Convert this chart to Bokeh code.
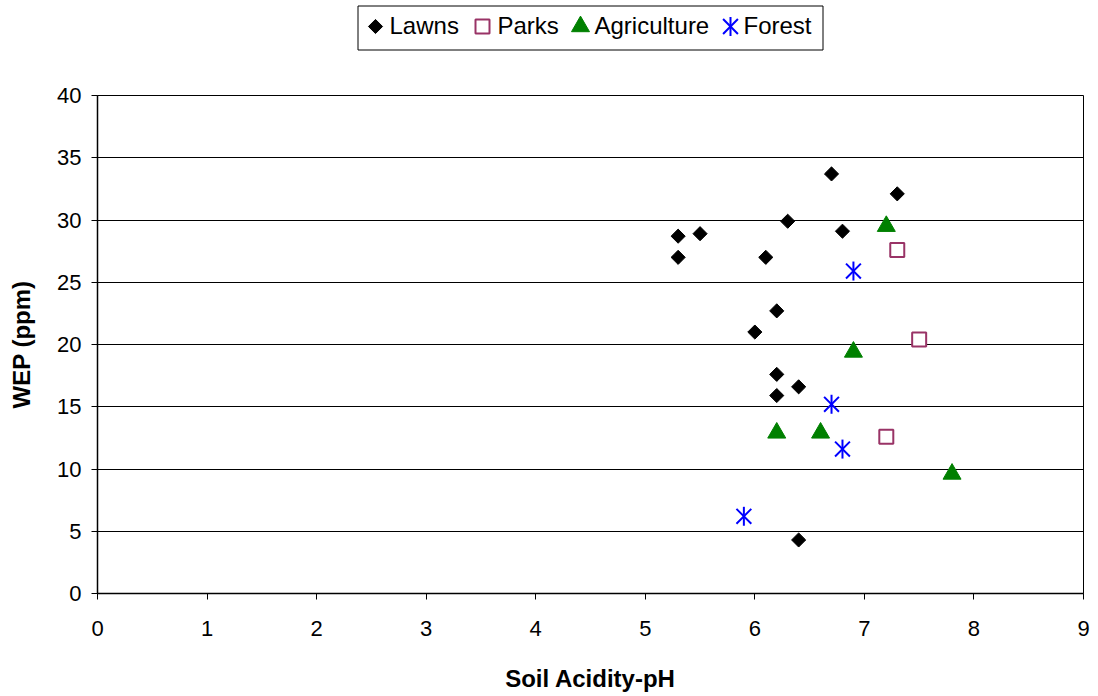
import math
from bokeh.plotting import figure
from bokeh.layouts import column
from bokeh.models import FixedTicker, Range1d
from bokeh.core.properties import value
from bokeh.embed import file_html
from bokeh.resources import INLINE

# --- data ---
lawns_ph = [6.7, 7.3, 6.3, 5.3, 5.5, 6.8, 5.3, 6.1, 6.2, 6.0, 6.2, 6.4, 6.2, 6.4]
lawns_wep = [33.7, 32.1, 29.9, 28.7, 28.9, 29.1, 27.0, 27.0, 22.7, 21.0, 17.6, 16.6, 15.9, 4.3]
parks_ph = [7.3, 7.5, 7.2]
parks_wep = [27.6, 20.4, 12.6]
agri_ph = [7.2, 6.9, 6.2, 6.6, 7.8]
agri_wep = [29.5, 19.4, 12.9, 12.9, 9.6]
forest_ph = [6.9, 6.7, 6.8, 5.9]
forest_wep = [25.9, 15.2, 11.6, 6.2]
series_names = ["Lawns", "Parks", "Agriculture", "Forest"]
x_ticks = [0, 1, 2, 3, 4, 5, 6, 7, 8, 9]
y_ticks = [0, 5, 10, 15, 20, 25, 30, 35, 40]

FONT = "Liberation Sans"
W = 1096
LEG_H = 60
FRAME_L, FRAME_R = 97, 1083   # page pixels of the plot frame

# style per series
LAWNS = dict(marker="square", size=10, angle=math.pi / 4, fill_color="black", line_color="black")
PARKS = dict(marker="square", size=14, fill_color="white", line_color="#993366", line_width=2)
AGRI = dict(marker="triangle", size=18, fill_color="#008000", line_color="#008000")
FOR_X = dict(marker="x", size=21, line_color="#0000FF", line_width=2)
FOR_V = dict(marker="dash", size=19, angle=math.pi / 2, line_color="#0000FF", line_width=2)

# ---------------- main chart ----------------
p = figure(width=W, height=694 - LEG_H, output_backend="svg", toolbar_location=None,
           x_range=Range1d(0, 9), y_range=Range1d(0, 40),
           min_border_left=FRAME_L, min_border_right=W - FRAME_R, min_border_top=95 - LEG_H,
           min_border_bottom=97)
p.background_fill_color = "white"
p.border_fill_color = "white"
p.outline_line_color = "black"
p.outline_line_width = 1

p.xgrid.visible = False
p.ygrid.grid_line_color = "black"
p.ygrid.grid_line_width = 1
p.ygrid.ticker = FixedTicker(ticks=y_ticks)

p.xaxis.ticker = FixedTicker(ticks=x_ticks)
p.yaxis.ticker = FixedTicker(ticks=y_ticks)
for ax in (p.xaxis[0], p.yaxis[0]):
    ax.axis_line_color = "black"
    ax.axis_line_width = 1.5
    ax.major_tick_line_color = "black"
    ax.major_tick_out = 6
    ax.major_tick_in = 0
    ax.minor_tick_line_color = None
    ax.major_label_text_font = FONT
    ax.major_label_text_font_size = "22px"
    ax.major_label_text_color = "black"
    ax.axis_label_text_font = FONT
    ax.axis_label_text_font_size = "24px"
    ax.axis_label_text_font_style = "bold"
    ax.axis_label_text_color = "black"

p.xaxis.axis_label = "Soil Acidity-pH"
p.yaxis.axis_label = "WEP (ppm)"
p.xaxis.major_label_standoff = 21
p.xaxis.axis_label_standoff = 26
p.yaxis.major_label_standoff = 10
p.yaxis.axis_label_standoff = 19

p.scatter(lawns_ph, lawns_wep, **LAWNS)
p.scatter(parks_ph, parks_wep, **PARKS)
p.scatter(agri_ph, agri_wep, **AGRI)
p.scatter(forest_ph, forest_wep, **FOR_X)
p.scatter(forest_ph, forest_wep, **FOR_V)

# ---------------- legend strip (page-pixel space, frame aligned with main plot) ----------------
leg = figure(width=W, height=LEG_H, output_backend="svg", toolbar_location=None,
             x_range=Range1d(FRAME_L, FRAME_R), y_range=Range1d(LEG_H, 0),
             min_border_left=FRAME_L, min_border_right=W - FRAME_R,
             min_border_top=0, min_border_bottom=0)
leg.axis.visible = False
leg.grid.visible = False
leg.outline_line_color = None
leg.background_fill_color = "white"
leg.border_fill_color = "white"

box_l, box_r, box_t, box_b = 357.5, 822.5, 5.5, 49.5
leg.quad(left=[box_l], right=[box_r], top=[box_t], bottom=[box_b],
         fill_color="white", line_color="black", line_width=1)
cy = 26
glyph_x = [375, 482, 580, 730]
text_x = [389, 497, 594, 743]
styles = [[LAWNS], [PARKS], [AGRI], [FOR_X, FOR_V]]
for gx, st in zip(glyph_x, styles):
    for s in st:
        leg.scatter([gx], [cy], **s)
leg.text(x=text_x, y=[cy - 1] * 4, text=series_names, text_font=value(FONT),
         text_font_size="24px", text_color="black", text_baseline="middle",
         text_align="left")

layout = column(leg, p, spacing=0)
open("out.html", "w").write(file_html(layout, INLINE))
